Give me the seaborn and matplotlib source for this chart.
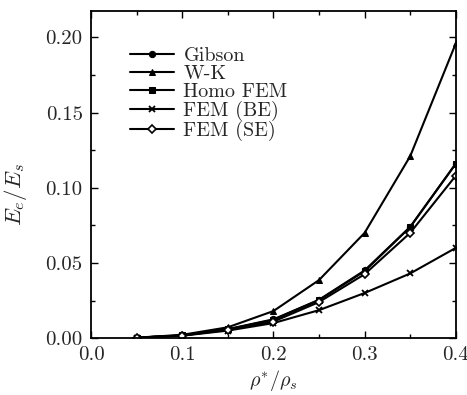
import numpy as np
import pandas as pd
import matplotlib
matplotlib.use("Agg")
import matplotlib.pyplot as plt
import seaborn as sns
from matplotlib.ticker import MultipleLocator

# --- data ---
rho = [0.05, 0.10, 0.15, 0.20, 0.25, 0.30, 0.35, 0.40]
gibson = [0.0003, 0.0018, 0.0060, 0.0125, 0.0255, 0.0450, 0.0740, 0.1160]
wk = [0.0003, 0.0022, 0.0072, 0.0180, 0.0386, 0.0700, 0.1210, 0.1960]
homo_fem = [0.0003, 0.0018, 0.0058, 0.0122, 0.0253, 0.0445, 0.0739, 0.1160]
fem_be = [0.0003, 0.0016, 0.0050, 0.0100, 0.0186, 0.0300, 0.0430, 0.0600]
fem_se = [0.0003, 0.0017, 0.0055, 0.0110, 0.0240, 0.0425, 0.0700, 0.1080]

labels = ["Gibson", "W-K", "Homo FEM", "FEM (BE)", "FEM (SE)"]
series = [gibson, wk, homo_fem, fem_be, fem_se]
markers = ["o", "^", "s", "x", "D"]

sns.set_theme(style="ticks")
plt.rcParams["font.family"] = ["cmr10", "DejaVu Serif"]
plt.rcParams["mathtext.fontset"] = "cm"
plt.rcParams["axes.formatter.use_mathtext"] = True

fig = plt.figure(figsize=(4.67, 3.95), dpi=100)
ax = fig.add_axes([0.195, 0.144, 0.781, 0.828])

for name, vals, mk in zip(labels, series, markers):
    df = pd.DataFrame({"rho": rho, "E": vals})
    kw = dict(marker=mk, markersize=4.5, markeredgecolor="black")
    if mk == "D":
        kw.update(markerfacecolor="white", markeredgewidth=1.2, markersize=4)
    if mk == "x":
        kw.update(markeredgewidth=1.3, markersize=5)
    sns.lineplot(data=df, x="rho", y="E", ax=ax, color="black", linewidth=1.5,
                 label=name, **kw)

ax.set_xlim(0, 0.4)
ax.set_ylim(0, 0.2175)
ax.xaxis.set_major_locator(MultipleLocator(0.1))
ax.xaxis.set_minor_locator(MultipleLocator(0.05))
ax.yaxis.set_major_locator(MultipleLocator(0.05))
ax.yaxis.set_minor_locator(MultipleLocator(0.025))
ax.xaxis.set_major_formatter(plt.FuncFormatter(lambda v, p: f"{v:.1f}"))
ax.yaxis.set_major_formatter(plt.FuncFormatter(lambda v, p: f"{v:.2f}"))
ax.tick_params(which="both", direction="in", top=True, right=True, labelsize=15,
               color="black", width=1)
ax.tick_params(which="major", length=5, pad=6)
ax.tick_params(which="minor", length=3)
for s in ax.spines.values():
    s.set_linewidth(1.3)
    s.set_color("black")

ax.set_xlabel(r"$\rho^{*}/\rho_s$", fontsize=14.5)
ax.set_ylabel(r"$E_e/E_s$", fontsize=16.5)
ax.xaxis.set_label_coords(0.5, -0.09)
ax.yaxis.set_label_coords(-0.17, 0.44)

ax.legend(loc="upper left", bbox_to_anchor=(0.085, 0.915), frameon=False,
          fontsize=14.5, handlelength=2.2, handletextpad=0.45, labelspacing=0.0,
          borderaxespad=0)

fig.savefig("out.png", dpi=100)
